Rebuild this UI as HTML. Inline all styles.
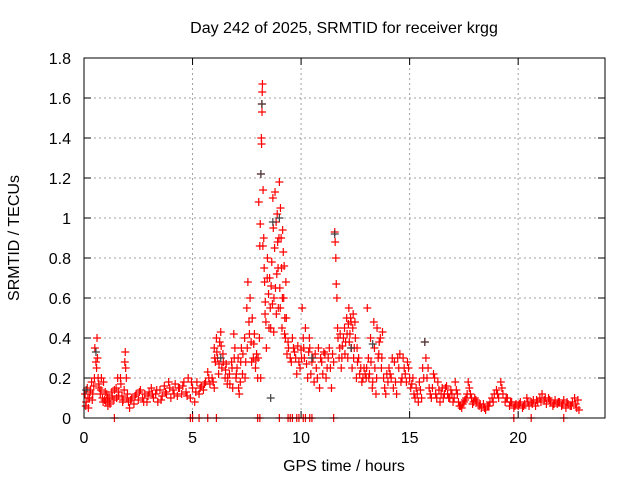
<!DOCTYPE html>
<html><head><meta charset="utf-8"><style>
body{margin:0;background:#fff;}
svg text{font-family:"Liberation Sans",sans-serif;font-size:16px;fill:#000;}
</style></head><body>
<svg id="chart" width="640" height="480" viewBox="0 0 640 480">
<text x="344" y="33" text-anchor="middle">Day 242 of 2025, SRMTID for receiver krgg</text>
<text x="344" y="471" text-anchor="middle">GPS time / hours</text>
<text transform="translate(19,238) rotate(-90)" text-anchor="middle">SRMTID / TECUs</text>
<g id="grid"></g>
<g id="ticks"></g>
<g id="red"></g>
<g id="black"></g>
<rect x="84" y="58" width="521" height="360" fill="none" stroke="#000" stroke-width="1"/>
</svg>
<script>
const xTicks=[0,5,10,15,20];
const yTicks=[0,0.2,0.4,0.6,0.8,1,1.2,1.4,1.6,1.8];
const yTickLabels=["0","0.2","0.4","0.6","0.8","1","1.2","1.4","1.6","1.8"];
const redT=[0.05,0.1,0.15,0.2,0.25,0.3,0.35,0.4,0.45,0.5,0.55,0.6,0.62,0.65,0.7,0.75,0.8,0.85,0.9,0.95,
1.0,1.05,1.1,1.15,1.2,1.3,1.4,1.5,1.55,1.6,1.7,1.75,1.8,1.85,1.9,1.92,1.95,2.0,
2.05,2.1,2.2,2.3,2.4,2.5,2.6,2.7,2.8,2.9,3.0,3.1,3.2,3.3,3.4,3.5,3.6,3.7,3.8,3.9,4.0,
4.1,4.2,4.3,4.4,4.5,4.6,4.7,4.8,4.9,5.0,5.1,5.2,5.3,5.4,5.5,5.6,5.7,5.8,5.9,6.0,
6.0,6.05,6.1,6.15,6.2,6.25,6.3,6.35,6.4,6.5,6.55,6.6,6.7,6.8,6.85,6.9,6.95,7.0,
7.05,7.1,7.15,7.2,7.25,7.3,7.4,7.45,7.5,7.55,7.6,7.65,7.7,7.75,7.8,7.85,7.9,7.95,8.0,
8.05,8.1,8.12,8.15,8.17,8.18,8.19,8.2,8.21,8.22,8.25,8.28,8.3,8.32,8.35,8.38,8.4,8.45,8.5,8.55,8.58,8.6,8.65,8.7,8.72,8.75,8.78,8.8,8.85,8.88,8.9,8.92,8.95,9.0,
9.02,9.05,9.08,9.1,9.12,9.15,9.18,9.2,9.22,9.25,9.28,9.3,9.35,9.4,9.5,9.6,9.7,9.8,9.9,10.0,
10.05,10.1,10.15,10.2,10.3,10.35,10.4,10.5,10.6,10.65,10.7,10.8,10.85,10.9,11.0,
11.1,11.2,11.3,11.4,11.5,11.55,11.57,11.6,11.62,11.65,11.7,11.75,11.8,11.85,11.9,12.0,
12.05,12.1,12.15,12.2,12.25,12.3,12.35,12.4,12.45,12.5,12.55,12.6,12.7,12.8,12.9,13.0,
13.05,13.1,13.15,13.2,13.3,13.35,13.4,13.45,13.5,13.55,13.6,13.7,13.75,13.8,13.9,14.0,
14.1,14.2,14.25,14.3,14.4,14.5,14.55,14.6,14.7,14.8,14.9,15.0,
15.1,15.2,15.3,15.4,15.5,15.6,15.7,15.75,15.8,15.9,16.0,
16.1,16.2,16.3,16.4,16.5,16.6,16.7,16.8,16.9,17.0,
17.1,17.2,17.3,17.4,17.5,17.6,17.7,17.8,17.9,18.0,
18.1,18.2,18.3,18.4,18.5,18.6,18.7,18.8,18.9,19.0,
19.1,19.2,19.3,19.4,19.5,19.6,19.7,19.8,19.9,20.0,
20.1,20.2,20.3,20.4,20.5,20.6,20.7,20.8,20.9,21.0,
21.1,21.2,21.3,21.4,21.5,21.6,21.7,21.8,21.9,22.0,
22.1,22.2,22.3,22.4,22.5,22.6,22.7,22.8];
const redV=[0.12,0.08,0.15,0.05,0.1,0.14,0.18,0.12,0.16,0.35,0.28,0.4,0.3,0.2,0.15,0.12,0.2,0.1,0.18,0.09,
0.08,0.12,0.06,0.1,0.07,0.11,0.14,0.1,0.2,0.13,0.17,0.11,0.09,0.14,0.33,0.25,0.2,0.12,
0.08,0.05,0.1,0.07,0.12,0.09,0.14,0.1,0.12,0.08,0.13,0.15,0.1,0.12,0.08,0.14,0.11,0.16,0.12,0.18,0.1,
0.14,0.17,0.11,0.15,0.12,0.18,0.13,0.2,0.1,0.15,0.08,0.18,0.12,0.16,0.14,0.18,0.23,0.17,0.2,0.15,
0.35,0.28,0.4,0.3,0.22,0.38,0.43,0.25,0.32,0.2,0.27,0.17,0.22,0.28,0.15,0.42,0.35,0.2,
0.25,0.3,0.12,0.18,0.35,0.22,0.4,0.28,0.55,0.68,0.48,0.6,0.38,0.5,0.3,0.42,0.25,0.32,0.2,
1.08,0.86,0.97,1.22,1.4,1.37,1.57,1.53,1.63,1.67,1.14,0.9,0.75,0.68,0.58,0.48,0.35,0.8,0.62,0.7,0.55,0.45,0.78,1.1,0.95,0.6,0.85,1.13,0.98,0.72,1.02,0.88,0.55,1.18,
0.65,1.05,0.9,0.75,0.45,0.94,0.83,0.6,0.76,0.5,0.4,0.68,0.32,0.38,0.3,0.4,0.33,0.22,0.28,0.34,
0.55,0.4,0.3,0.45,0.2,0.33,0.35,0.28,0.18,0.32,0.25,0.35,0.15,0.3,0.22,
0.32,0.25,0.35,0.15,0.28,0.93,0.88,0.8,0.67,0.6,0.4,0.3,0.42,0.25,0.36,0.45,
0.38,0.5,0.3,0.55,0.42,0.48,0.25,0.52,0.35,0.4,0.2,0.28,0.22,0.18,0.25,0.2,
0.55,0.3,0.22,0.4,0.18,0.48,0.25,0.12,0.45,0.3,0.38,0.25,0.43,0.2,0.12,0.18,
0.22,0.3,0.15,0.28,0.12,0.25,0.32,0.18,0.3,0.22,0.28,0.2,
0.17,0.12,0.15,0.08,0.14,0.25,0.38,0.3,0.2,0.15,0.1,
0.22,0.12,0.18,0.08,0.15,0.12,0.16,0.1,0.14,0.08,
0.18,0.12,0.06,0.05,0.08,0.1,0.18,0.12,0.07,0.1,
0.08,0.06,0.05,0.07,0.04,0.06,0.08,0.1,0.12,0.14,
0.1,0.18,0.12,0.08,0.1,0.06,0.08,0.05,0.07,0.06,
0.08,0.05,0.07,0.1,0.06,0.08,0.09,0.06,0.08,0.1,
0.12,0.09,0.07,0.1,0.08,0.06,0.09,0.07,0.08,0.06,
0.09,0.05,0.07,0.06,0.08,0.1,0.05,0.04];
const redT2=[0.08,0.18,0.28,0.38,0.48,0.58,0.68,0.78,0.88,0.98,1.08,1.18,1.28,1.38,1.48,1.58,1.68,1.78,1.88,1.98,
2.15,2.35,2.55,2.75,2.95,3.15,3.35,3.55,3.75,3.95,4.15,4.35,4.55,4.75,4.95,5.15,5.35,5.55,5.75,5.95,
6.02,6.12,6.22,6.32,6.42,6.52,6.62,6.72,6.82,6.92,7.02,7.12,7.22,7.32,7.42,7.52,7.62,7.72,7.82,7.92,
8.02,8.08,8.14,8.24,8.34,8.44,8.52,8.62,8.68,8.74,8.82,8.86,8.94,8.98,9.04,9.14,9.24,9.32,9.42,9.55,9.65,9.75,9.85,9.95,
10.02,10.12,10.25,10.38,10.45,10.55,10.75,10.95,11.05,11.15,11.25,11.35,11.45,11.68,11.78,11.88,11.95,
12.02,12.12,12.18,12.22,12.28,12.32,12.38,12.42,12.48,12.58,12.65,12.75,12.85,12.95,
13.02,13.12,13.22,13.28,13.38,13.48,13.58,13.65,13.72,13.85,13.95,14.05,14.15,14.35,14.45,14.65,14.75,14.85,14.95,
15.05,15.15,15.25,15.35,15.45,15.55,15.65,15.85,15.95,16.05,16.15,16.25,16.35,16.45,16.55,16.65,16.75,16.85,16.95,
17.05,17.15,17.25,17.35,17.45,17.55,17.65,17.75,17.85,17.95,18.05,18.25,18.45,18.65,18.85,19.05,19.25,19.45,19.65,19.85,
20.05,20.25,20.45,20.65,20.85,21.05,21.25,21.45,21.65,21.85,22.05,22.25,22.45,22.65,22.75];
const redV2=[0.06,0.1,0.13,0.09,0.2,0.25,0.17,0.14,0.08,0.13,0.1,0.08,0.13,0.09,0.15,0.11,0.2,0.08,0.28,0.1,
0.09,0.11,0.13,0.08,0.11,0.12,0.14,0.09,0.13,0.15,0.12,0.15,0.16,0.11,0.18,0.13,0.15,0.17,0.2,0.18,
0.3,0.33,0.27,0.36,0.28,0.24,0.2,0.17,0.25,0.3,0.22,0.15,0.28,0.32,0.2,0.35,0.42,0.28,0.37,0.29,
0.3,0.4,0.2,0.86,0.52,0.7,0.45,0.66,0.57,0.43,0.65,0.52,0.75,0.9,0.55,0.6,0.42,0.5,0.35,0.28,0.35,0.3,0.36,0.25,
0.3,0.35,0.27,0.4,0.22,0.3,0.2,0.28,0.33,0.2,0.3,0.25,0.32,0.45,0.35,0.3,0.4,
0.32,0.42,0.47,0.38,0.5,0.35,0.45,0.3,0.48,0.35,0.3,0.25,0.2,0.22,
0.25,0.2,0.28,0.15,0.35,0.2,0.32,0.4,0.3,0.15,0.22,0.25,0.2,0.18,0.3,0.2,0.25,0.18,0.25,
0.15,0.2,0.1,0.12,0.18,0.1,0.2,0.25,0.12,0.15,0.2,0.1,0.14,0.12,0.1,0.15,0.12,0.1,0.12,
0.1,0.14,0.08,0.06,0.07,0.09,0.12,0.15,0.1,0.08,0.09,0.07,0.05,0.06,0.08,0.12,0.15,0.1,0.08,0.06,
0.07,0.06,0.08,0.07,0.09,0.08,0.1,0.09,0.07,0.08,0.07,0.08,0.06,0.07,0.09];
const zeroT=[1.4,4.9,5.0,5.3,5.7,6.1,8.0,8.1,9.0,9.4,9.5,9.6,9.8,9.9,10.1,10.2,10.4,10.5,11.5,19.8,20.6,22.1];
const blackT=[0.55,8.15,8.2,8.6,8.7,9.0,11.55,13.3,15.7,12.3,10.5,6.3,0.1];
const blackV=[0.33,1.22,1.57,0.1,0.98,1.0,0.92,0.37,0.38,0.35,0.3,0.3,0.14];

const NS="http://www.w3.org/2000/svg";
const L=84,R=605,T=58,B=418,XMAX=24,YMAX=1.8;
function xs(t){return L+(R-L)*t/XMAX;}
function ys(v){return B-(B-T)*v/YMAX;}
function mk(tag,attrs,parent){const e=document.createElementNS(NS,tag);for(const k in attrs)e.setAttribute(k,attrs[k]);parent.appendChild(e);return e;}
const grid=document.getElementById('grid'),ticks=document.getElementById('ticks');
yTicks.forEach((v,i)=>{const y=ys(v);
 if(i>0&&i<yTicks.length-1){const g=mk('line',{x1:L,x2:R,y1:y,y2:y,stroke:'#a0a0a0','stroke-dasharray':'2,3'},grid);
 
 }
 mk('line',{x1:L,x2:L+7,y1:y,y2:y,stroke:'#000'},ticks);
 mk('line',{x1:R-7,x2:R,y1:y,y2:y,stroke:'#000'},ticks);
 const t=mk('text',{x:L-13,y:y+6,'text-anchor':'end'},ticks);t.textContent=yTickLabels[i];
 
 
});
xTicks.forEach(v=>{const x=xs(v);
 if(v>0){const g=mk('line',{x1:x,x2:x,y1:T,y2:B,stroke:'#a0a0a0','stroke-dasharray':'2,3'},grid);
 
 }
 mk('line',{x1:x,x2:x,y1:B,y2:B-7,stroke:'#000'},ticks);
 mk('line',{x1:x,x2:x,y1:T,y2:T+7,stroke:'#000'},ticks);
 const t=mk('text',{x:x,y:B+25,'text-anchor':'middle'},ticks);t.textContent=String(v);
 
 
});
function plus(g,t,v,c){const x=xs(t),y=ys(v);
 const p=mk('path',{d:`M${x-4},${y}H${x+4}M${x},${y-4}V${y+4}`,stroke:c,'stroke-width':1.2,fill:'none'},g);
 
 }
const red=document.getElementById('red'),black=document.getElementById('black');
blackT.forEach((t,i)=>plus(black,t,blackV[i],'#404040'));
redT.forEach((t,i)=>plus(red,t,redV[i],'#ff0000'));
redT2.forEach((t,i)=>plus(red,t,redV2[i],'#ff0000'));
zeroT.forEach(t=>plus(red,t,0,'#ff0000'));
</script>
</body></html>
